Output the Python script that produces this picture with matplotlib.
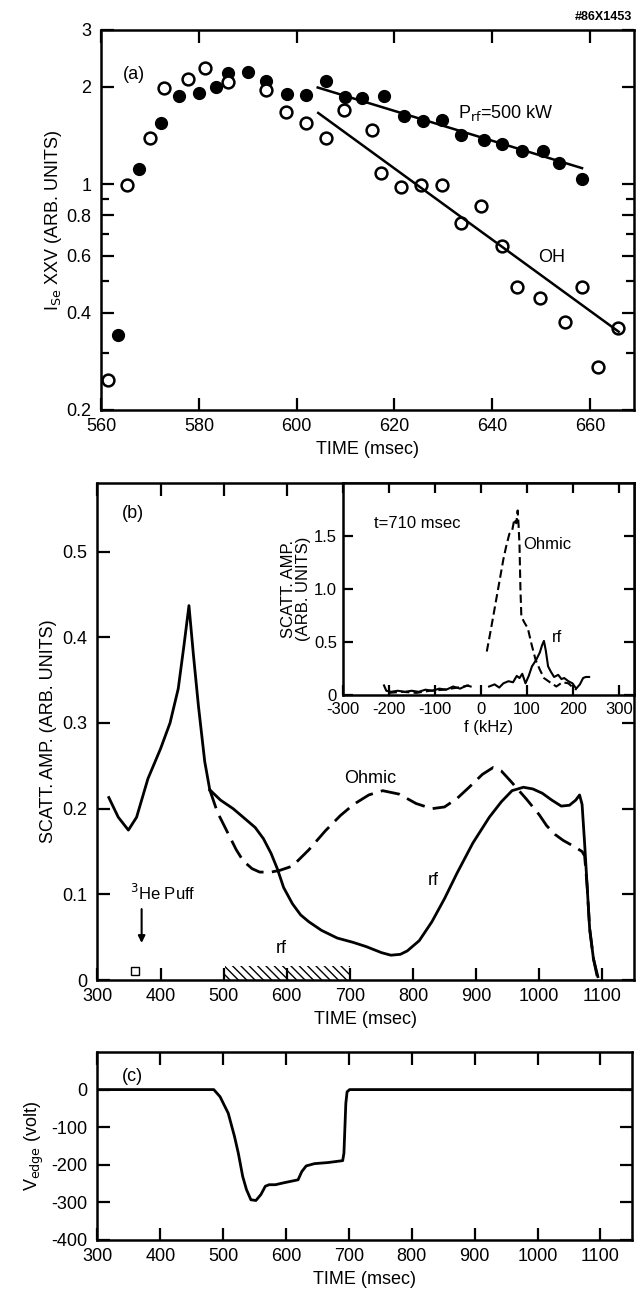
import matplotlib
matplotlib.use("Agg")
import matplotlib.pyplot as plt

plt.rcParams['font.family'] = ['Liberation Sans', 'DejaVu Sans']
plt.rcParams['axes.unicode_minus'] = False

# ---- panel (a): I_Se XXV vs time ----
rf_t = [563.4, 567.8, 572.2, 575.9, 579.9, 583.4, 585.9, 590.1, 593.8, 598.0, 601.9,
        605.9, 609.9, 613.4, 617.8, 621.9, 625.9, 629.8, 633.7, 638.3, 642.0, 646.2,
        650.5, 653.7, 658.3]
rf_i = [0.34, 1.11, 1.54, 1.87, 1.91, 2.00, 2.20, 2.23, 2.09, 1.90, 1.89,
        2.09, 1.86, 1.84, 1.87, 1.62, 1.57, 1.58, 1.42, 1.37, 1.33, 1.27,
        1.27, 1.16, 1.04]
oh_t = [561.3, 565.3, 569.9, 572.8, 577.8, 581.3, 585.9, 593.8, 597.8, 601.8, 605.9,
        609.7, 615.5, 617.3, 621.3, 625.5, 629.7, 633.7, 637.8, 642.0, 645.1, 649.9,
        654.9, 658.4, 661.6, 665.7]
oh_i = [0.247, 0.99, 1.39, 1.98, 2.11, 2.28, 2.07, 1.95, 1.67, 1.55, 1.39,
        1.70, 1.47, 1.08, 0.98, 0.99, 0.99, 0.755, 0.855, 0.643, 0.479, 0.445,
        0.375, 0.479, 0.272, 0.359]
fit_rf_t = [604.3, 658.4]
fit_rf_i = [1.99, 1.12]
fit_oh_t = [604.4, 665.9]
fit_oh_i = [1.66, 0.349]

# ---- panel (b): scattering amplitude vs time ----
pre_t = [318, 333, 349, 362, 380, 400, 415, 428, 437, 445, 452, 460, 470, 478]
pre_y = [0.213, 0.19, 0.175, 0.19, 0.235, 0.27, 0.30, 0.34, 0.39, 0.437, 0.38, 0.32, 0.255, 0.222]
b_rf_t = [478, 495, 515, 531, 550, 563, 575, 585, 595, 609, 622, 635, 655, 680, 705, 726,
          750, 765, 780, 791, 810, 830, 850, 870, 895, 921, 940, 957, 975, 990, 1005,
          1020, 1035, 1048, 1058, 1064, 1068, 1072, 1076, 1080, 1086, 1093]
b_rf_y = [0.222, 0.21, 0.20, 0.19, 0.178, 0.165, 0.148, 0.13, 0.108, 0.089, 0.076, 0.068,
          0.058, 0.049, 0.044, 0.039, 0.032, 0.029, 0.030, 0.034, 0.046, 0.068, 0.095,
          0.125, 0.160, 0.190, 0.208, 0.221, 0.225, 0.223, 0.218, 0.210, 0.203, 0.204,
          0.210, 0.216, 0.205, 0.160, 0.110, 0.060, 0.025, 0.004]
b_oh_t = [478, 490, 505, 520, 531, 545, 557, 575, 589, 609, 635, 661, 685, 706, 730, 752,
          778, 805, 830, 850, 870, 889, 910, 927, 940, 955, 980, 1000, 1012, 1025, 1038,
          1055, 1068, 1072, 1076, 1080, 1086, 1092]
b_oh_y = [0.222, 0.196, 0.174, 0.152, 0.139, 0.130, 0.126, 0.126, 0.128, 0.133, 0.152,
          0.174, 0.192, 0.205, 0.216, 0.221, 0.217, 0.206, 0.200, 0.202, 0.212, 0.225,
          0.240, 0.248, 0.244, 0.232, 0.211, 0.193, 0.180, 0.170, 0.163, 0.156, 0.150,
          0.145, 0.110, 0.060, 0.025, 0.004]
rf_on = [502, 700]
puff_t = 370

# ---- inset: spectra at t = 710 msec ----
in_oh_f = [13, 22, 31, 40, 49, 55, 62, 68, 73, 77, 80, 82, 84, 86, 88, 95, 102, 110, 119,
           128, 137, 150, 164, 177, 190, 200, 208]
in_oh_y = [0.41, 0.62, 0.84, 1.06, 1.28, 1.40, 1.52, 1.55, 1.66, 1.62, 1.74, 1.60, 1.41,
           1.0, 0.74, 0.68, 0.63, 0.48, 0.33, 0.24, 0.16, 0.12, 0.08, 0.12, 0.11, 0.07, 0.05]
in_oh_neg_f = [-200, -170, -140, -110, -80, -50, -25]
in_oh_neg_y = [0.02, 0.03, 0.02, 0.04, 0.05, 0.07, 0.09]
in_rf_neg_f = [-210, -205, -195, -180, -165, -150, -135, -120, -105, -90, -75, -60, -45, -30, -22]
in_rf_neg_y = [0.09, 0.04, 0.03, 0.04, 0.03, 0.04, 0.03, 0.05, 0.04, 0.06, 0.05, 0.08, 0.06, 0.09, 0.08]
in_rf_f = [18, 30, 40, 49, 60, 70, 78, 84, 90, 97, 104, 111, 120, 128, 133, 137, 141, 146,
           152, 159, 168, 175, 181, 190, 199, 207, 215, 222, 228, 235]
in_rf_y = [0.08, 0.10, 0.07, 0.11, 0.13, 0.12, 0.18, 0.16, 0.20, 0.11, 0.18, 0.27, 0.33,
           0.40, 0.47, 0.51, 0.42, 0.27, 0.22, 0.17, 0.19, 0.15, 0.16, 0.13, 0.11, 0.06,
           0.10, 0.16, 0.17, 0.17]

# ---- panel (c): edge voltage ----
v_t = [300, 485, 495, 508, 518, 524, 531, 537, 544, 552, 560, 567, 573, 583, 596, 619,
       625, 632, 645, 667, 690, 692, 695, 697, 701, 1150]
v_v = [0, 0, -19, -63, -125, -169, -231, -266, -293, -295, -279, -257, -253, -253, -248,
       -240, -218, -203, -197, -194, -189, -169, -37, -6, 0, 0]

FS = 13
fig = plt.figure(figsize=(6.37, 13.01), dpi=100)


def style(ax, fs=FS):
    ax.tick_params(which='both', direction='in', top=True, right=True, labelsize=fs,
                   width=1.6)
    ax.tick_params(which='major', length=9)
    ax.tick_params(which='minor', length=6)
    ax.tick_params(axis='y', pad=7)
    ax.tick_params(axis='x', pad=6)
    for s in ax.spines.values():
        s.set_linewidth(1.8)


# (a)
ax1 = fig.add_axes([0.159, 0.685, 0.836, 0.292])
ax1.set_yscale('log')
ax1.plot(rf_t, rf_i, 'o', color='k', ms=8.5)
ax1.plot(oh_t, oh_i, 'o', mfc='white', mec='k', mew=1.8, ms=8.5)
ax1.plot(fit_rf_t, fit_rf_i, '-', color='k', lw=1.8)
ax1.plot(fit_oh_t, fit_oh_i, '-', color='k', lw=1.8)
ax1.set_xlim(560, 669)
ax1.set_ylim(0.2, 3)
ax1.set_xticks([560, 580, 600, 620, 640, 660])
ax1.set_yticks([0.2, 0.4, 0.6, 0.8, 1, 2, 3])
ax1.set_yticklabels(['0.2', '0.4', '0.6', '0.8', '1', '2', '3'])
ax1.set_yticks([0.3, 0.5, 0.7, 0.9], minor=True)
ax1.yaxis.set_minor_formatter(plt.NullFormatter())
style(ax1)
ax1.set_xlabel('TIME (msec)', fontsize=FS)
ax1.set_ylabel(r'I$_{\rm Se}$ XXV (ARB. UNITS)', fontsize=FS, labelpad=2)
ax1.text(0.04, 0.87, '(a)', transform=ax1.transAxes, fontsize=FS)
ax1.text(0.67, 0.78, r'P$_{\rm rf}$=500 kW', transform=ax1.transAxes, fontsize=FS,
         va='center')
ax1.text(0.82, 0.39, 'OH', transform=ax1.transAxes, fontsize=FS)
fig.text(0.993, 0.987, '#86X1453', ha='right', va='center', fontsize=9, fontweight='bold')

# (b)
ax2 = fig.add_axes([0.153, 0.2467, 0.842, 0.382])
ax2.plot(pre_t, pre_y, '-', color='k', lw=2)
ax2.plot(b_rf_t, b_rf_y, '-', color='k', lw=2)
ax2.plot(b_oh_t, b_oh_y, '--', color='k', lw=2, dashes=(7, 3))
ax2.fill_between(rf_on, 0, 0.016, facecolor='none', edgecolor='k', hatch='\\\\\\\\', lw=0)
ax2.annotate('', xy=(puff_t, 0.04), xytext=(puff_t, 0.086),
             arrowprops=dict(arrowstyle='-|>', color='k', lw=1.5))
ax2.plot([puff_t - 11], [0.011], 's', mfc='white', mec='k', ms=6)
ax2.set_xlim(300, 1150)
ax2.set_ylim(0, 0.58)
ax2.set_xticks(range(300, 1101, 100))
ax2.set_yticks([0, 0.1, 0.2, 0.3, 0.4, 0.5])
ax2.set_yticklabels(['0', '0.1', '0.2', '0.3', '0.4', '0.5'])
style(ax2)
ax2.set_xlabel('TIME (msec)', fontsize=FS)
ax2.set_ylabel('SCATT. AMP. (ARB. UNITS)', fontsize=FS)
ax2.text(0.045, 0.93, '(b)', transform=ax2.transAxes, fontsize=FS)
ax2.text(0.46, 0.406, 'Ohmic', transform=ax2.transAxes, fontsize=FS, va='center')
ax2.text(0.615, 0.20, 'rf', transform=ax2.transAxes, fontsize=FS, va='center')
ax2.text(0.333, 0.064, 'rf', transform=ax2.transAxes, fontsize=FS, va='center')
ax2.text(0.06, 0.175, r'$^3$He Puff', transform=ax2.transAxes, fontsize=FS - 1,
         va='center')

# inset
ax3 = fig.add_axes([0.5377, 0.4658, 0.4573, 0.163])
ax3.plot(in_oh_f, in_oh_y, '--', color='k', lw=1.5, dashes=(4, 2))
ax3.plot(in_oh_neg_f, in_oh_neg_y, '--', color='k', lw=1.5, dashes=(4, 2))
ax3.plot(in_rf_f, in_rf_y, '-', color='k', lw=1.5)
ax3.plot(in_rf_neg_f, in_rf_neg_y, '-', color='k', lw=1.5)
ax3.set_xlim(-300, 332)
ax3.set_ylim(0, 2.0)
ax3.set_xticks([-300, -200, -100, 0, 100, 200, 300])
ax3.set_yticks([0, 0.5, 1.0, 1.5])
ax3.set_yticklabels(['0', '0.5', '1.0', '1.5'])
style(ax3)
ax3.tick_params(labelsize=FS - 1, length=7)
ax3.tick_params(axis='y', pad=4)
ax3.tick_params(axis='x', pad=5)
ax3.set_xlabel('f (kHz)', fontsize=FS - 1, labelpad=2)
ax3.set_ylabel('SCATT. AMP.\n(ARB. UNITS)', fontsize=FS - 1, labelpad=2, linespacing=1.0)
ax3.text(0.108, 0.81, 't=710 msec', transform=ax3.transAxes, fontsize=FS - 1, va='center')
ax3.text(0.62, 0.71, 'Ohmic', transform=ax3.transAxes, fontsize=FS - 1, va='center')
ax3.text(0.72, 0.27, 'rf', transform=ax3.transAxes, fontsize=FS - 1, va='center')

# (c)
ax4 = fig.add_axes([0.153, 0.0469, 0.839, 0.1445])
ax4.plot(v_t, v_v, '-', color='k', lw=2)
ax4.set_xlim(300, 1150)
ax4.set_ylim(-400, 100)
ax4.set_xticks(range(300, 1101, 100))
ax4.set_yticks([-400, -300, -200, -100, 0])
style(ax4)
ax4.set_xlabel('TIME (msec)', fontsize=FS)
ax4.set_ylabel(r'V$_{\rm edge}$ (volt)', fontsize=FS)
ax4.text(0.045, 0.87, '(c)', transform=ax4.transAxes, fontsize=FS, va='center')

fig.savefig('out.png', dpi=100)
